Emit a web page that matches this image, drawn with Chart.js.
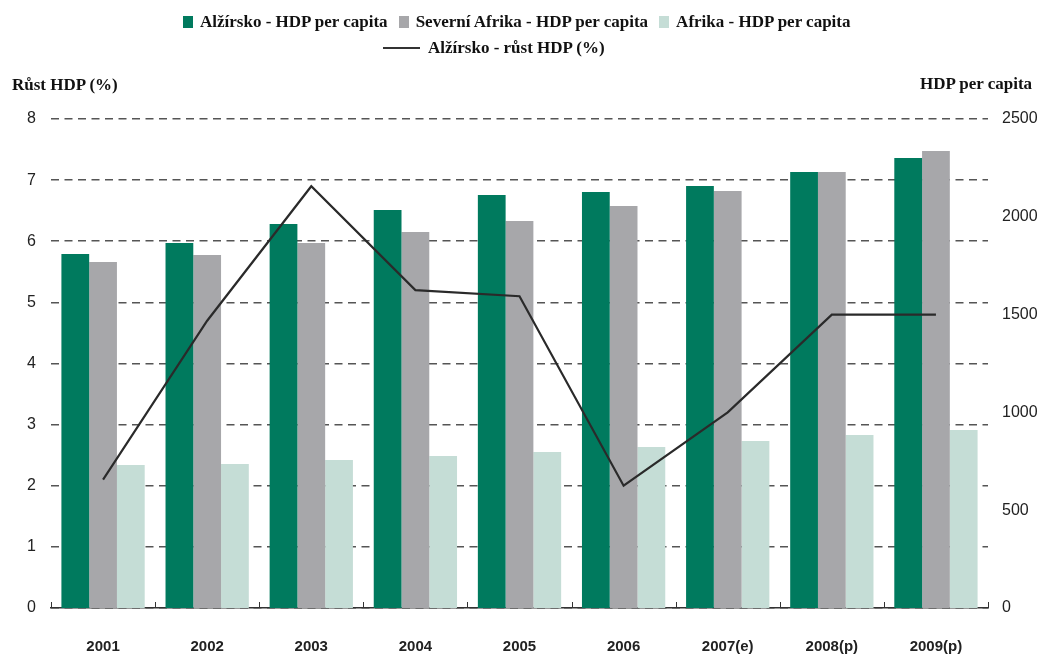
<!DOCTYPE html>
<html>
<head>
<meta charset="utf-8">
<script src="https://cdn.jsdelivr.net/npm/chart.js@4"></script>
<style>
    body { margin: 0; background: #fff; }
    #wrap { position: relative; width: 1040px; height: 654px; }
    .lg { position: absolute; font-family: 'Liberation Serif', serif; font-weight: bold; font-size: 17px; color: #111; white-space: nowrap; display: flex; align-items: center; }
    .lg .item { display: flex; align-items: center; margin-right: 11px; }
    .lg .box { width: 10px; height: 12px; margin-right: 7px; }
    .lg .ln { width: 37px; height: 2px; background: #333; margin-right: 8px; }
    .atitle { position: absolute; font-family: 'Liberation Serif', serif; font-weight: bold; font-size: 17px; color: #111; }
</style>
</head>
<body>
<div id="wrap">
    <canvas id="chart" width="1040" height="654"></canvas>
    <div class="lg" style="left:183px; top:12px;">
        <div class="item"><span class="box" style="background:#007a5e"></span>Alžírsko - HDP per capita</div>
        <div class="item"><span class="box" style="background:#a7a7aa"></span>Severní Afrika - HDP per capita</div>
        <div class="item"><span class="box" style="background:#c5ddd6"></span>Afrika - HDP per capita</div>
    </div>
    <div class="lg" style="left:383px; top:38px;">
        <div class="item"><span class="ln"></span>Alžírsko - růst HDP (%)</div>
    </div>
    <div class="atitle" style="left:12px; top:75px;">Růst HDP (%)</div>
    <div class="atitle" style="left:920px; top:74px;">HDP per capita</div>
</div>
<script>
const years = ['2001', '2002', '2003', '2004', '2005', '2006', '2007(e)', '2008(p)', '2009(p)'];
const algeriaGdp = [1810, 1866, 1963, 2035, 2111, 2127, 2157, 2229, 2301];
const northAfricaGdp = [1769, 1805, 1866, 1922, 1978, 2055, 2132, 2229, 2336];
const africaGdp = [731, 736, 757, 777, 798, 823, 854, 884, 910];
const algeriaGrowth = [2.1, 4.7, 6.9, 5.2, 5.1, 2.0, 3.2, 4.8, 4.8];

// small upward ticks between the categories on the x axis
const categoryTicks = {
    id: 'categoryTicks',
    afterDraw(chart) {
        const ctx = chart.ctx;
        const x = chart.scales.x;
        const bottom = chart.chartArea.bottom;
        ctx.save();
        ctx.strokeStyle = '#333';
        ctx.lineWidth = 1;
        for (let i = 0; i <= years.length; i++) {
            const px = Math.round(x.getPixelForValue(i - 0.5)) + 0.5;
            ctx.beginPath();
            ctx.moveTo(px, bottom);
            ctx.lineTo(px, bottom - 6);
            ctx.stroke();
        }
        ctx.restore();
    }
};

const tickFont = { family: 'Liberation Sans', size: 16 };

new Chart(document.getElementById('chart').getContext('2d'), {
    data: {
        labels: years,
        datasets: [
            {
                type: 'line',
                label: 'Alžírsko - růst HDP (%)',
                data: algeriaGrowth,
                yAxisID: 'y',
                borderColor: '#2a2a2a',
                borderWidth: 2.2,
                pointRadius: 0,
                tension: 0,
                order: 0
            },
            {
                type: 'bar',
                label: 'Alžírsko - HDP per capita',
                data: algeriaGdp,
                yAxisID: 'y2',
                backgroundColor: '#007a5e',
                order: 1
            },
            {
                type: 'bar',
                label: 'Severní Afrika - HDP per capita',
                data: northAfricaGdp,
                yAxisID: 'y2',
                backgroundColor: '#a7a7aa',
                order: 1
            },
            {
                type: 'bar',
                label: 'Afrika - HDP per capita',
                data: africaGdp,
                yAxisID: 'y2',
                backgroundColor: '#c5ddd6',
                order: 1
            }
        ]
    },
    options: {
        responsive: false,
        animation: false,
        layout: { padding: { top: 119, bottom: 0, left: 0, right: 0 } },
        datasets: {
            bar: { barPercentage: 1, categoryPercentage: 0.8 }
        },
        scales: {
            x: {
                grid: { display: false, drawTicks: false },
                border: { display: true, color: '#333', width: 1.5 },
                ticks: { color: '#222', font: { family: 'Liberation Sans', size: 15, weight: 'bold' }, padding: 30, maxRotation: 0 },
                afterFit(scale) { scale.height = 46; }
            },
            y: {
                position: 'left',
                min: 0,
                max: 8,
                ticks: { stepSize: 1, color: '#222', font: tickFont, padding: 15 },
                grid: { color: '#555', lineWidth: 1.6, drawTicks: false },
                border: { display: false, dash: [8, 5.5] },
                afterFit(scale) { scale.width = 51; }
            },
            y2: {
                position: 'right',
                min: 0,
                max: 2500,
                ticks: {
                    stepSize: 500,
                    color: '#222',
                    font: tickFont,
                    padding: 14,
                    callback: function(value) { return String(value); }
                },
                grid: { display: false, drawTicks: false },
                border: { display: false },
                afterFit(scale) { scale.width = 52; }
            }
        },
        plugins: {
            legend: { display: false },
            tooltip: { enabled: false }
        }
    },
    plugins: [categoryTicks]
});
</script>
</body>
</html>
